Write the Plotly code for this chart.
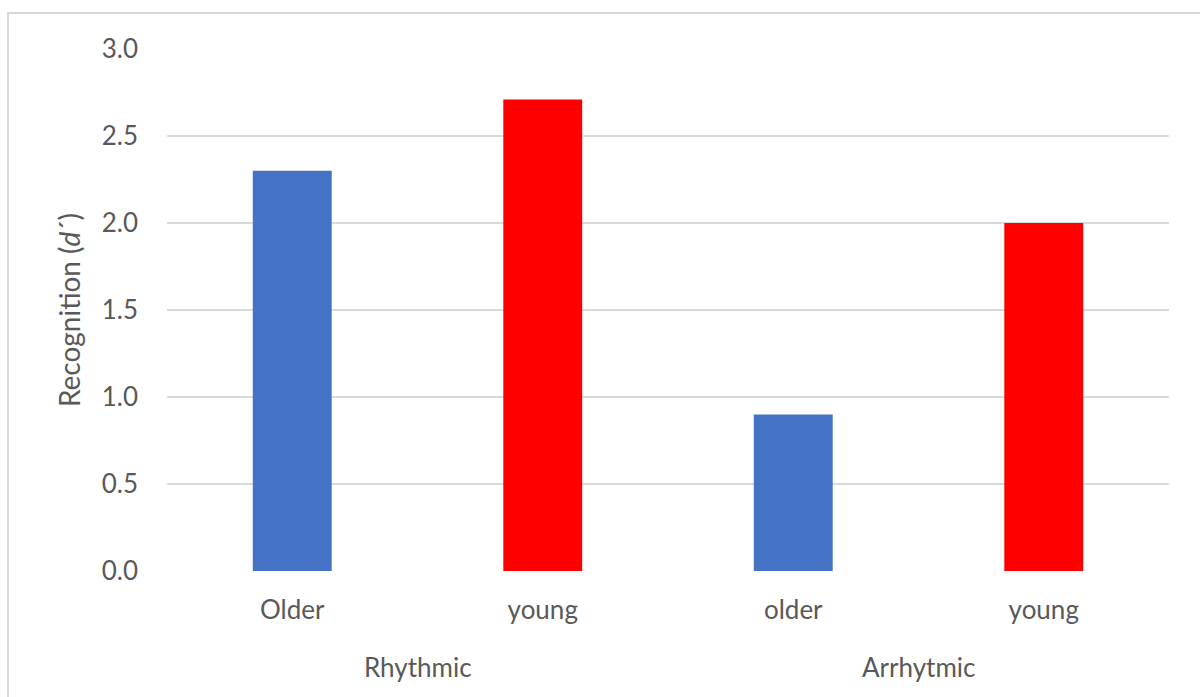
import plotly.graph_objects as go

# Recognition scores (d') by rhythm condition and age group
conditions = ["Rhythmic", "Rhythmic", "Arrhytmic", "Arrhytmic"]
groups = ["Older", "young", "older", "young"]
scores = [2.30, 2.71, 0.90, 2.00]
bar_colors = ["#4472C4", "#FF0000", "#4472C4", "#FF0000"]

y_ticks = [0.0, 0.5, 1.0, 1.5, 2.0, 2.5, 3.0]

FONT = "Lato"
TEXT = "#595959"
GRID = "#D9D9D9"

# one slot per bar along the category axis
slots = list(range(len(groups)))

fig = go.Figure(
    go.Bar(
        x=slots,
        y=scores,
        marker=dict(color=bar_colors, line=dict(width=0)),
        width=0.315,
        showlegend=False,
    )
)

# condition labels centred under their pair of bars
cond_labels = []
for name in dict.fromkeys(conditions):
    idx = [i for i, c in enumerate(conditions) if c == name]
    cond_labels.append(
        dict(
            x=sum(idx) / len(idx),
            xref="x",
            y=-0.184,
            yref="paper",
            yanchor="middle",
            text=name,
            showarrow=False,
            font=dict(family=FONT, size=26, color=TEXT),
        )
    )

W, H = 1200, 697
ml, mr, mt, mb = 167, 31, 49, 126
pw, ph = W - ml - mr, H - mt - mb

fig.update_layout(
    width=W,
    height=H,
    margin=dict(l=ml, r=mr, t=mt, b=mb),
    paper_bgcolor="white",
    plot_bgcolor="white",
    font=dict(family=FONT, size=26, color=TEXT),
    xaxis=dict(
        range=[-0.5, len(groups) - 0.5],
        tickvals=slots,
        ticktext=groups,
        showgrid=False,
        showline=False,
        zeroline=False,
        ticks="",
        ticklabelstandoff=21,
        tickfont=dict(family=FONT, size=26, color=TEXT),
    ),
    yaxis=dict(
        range=[0, 3],
        tickvals=y_ticks,
        tickformat=".1f",
        showgrid=True,
        gridcolor=GRID,
        gridwidth=1.5,
        zeroline=False,
        showline=False,
        ticks="",
        ticklabelstandoff=28,
        tickfont=dict(family=FONT, size=26, color=TEXT),
        title=dict(
            text="Recognition (<i>d</i>´)",
            font=dict(family=FONT, size=28, color=TEXT),
            standoff=12,
        ),
    ),
    annotations=cond_labels,
    shapes=[
        dict(
            type="rect",
            xref="paper",
            yref="paper",
            x0=(8 - ml) / pw,
            x1=(W + 10 - ml) / pw,
            y0=-(H + 10 - (H - mb)) / ph,
            y1=1 + (mt - 13) / ph,
            line=dict(color=GRID, width=2),
            fillcolor="rgba(0,0,0,0)",
            layer="below",
        )
    ],
)

fig.write_html("out.html")
